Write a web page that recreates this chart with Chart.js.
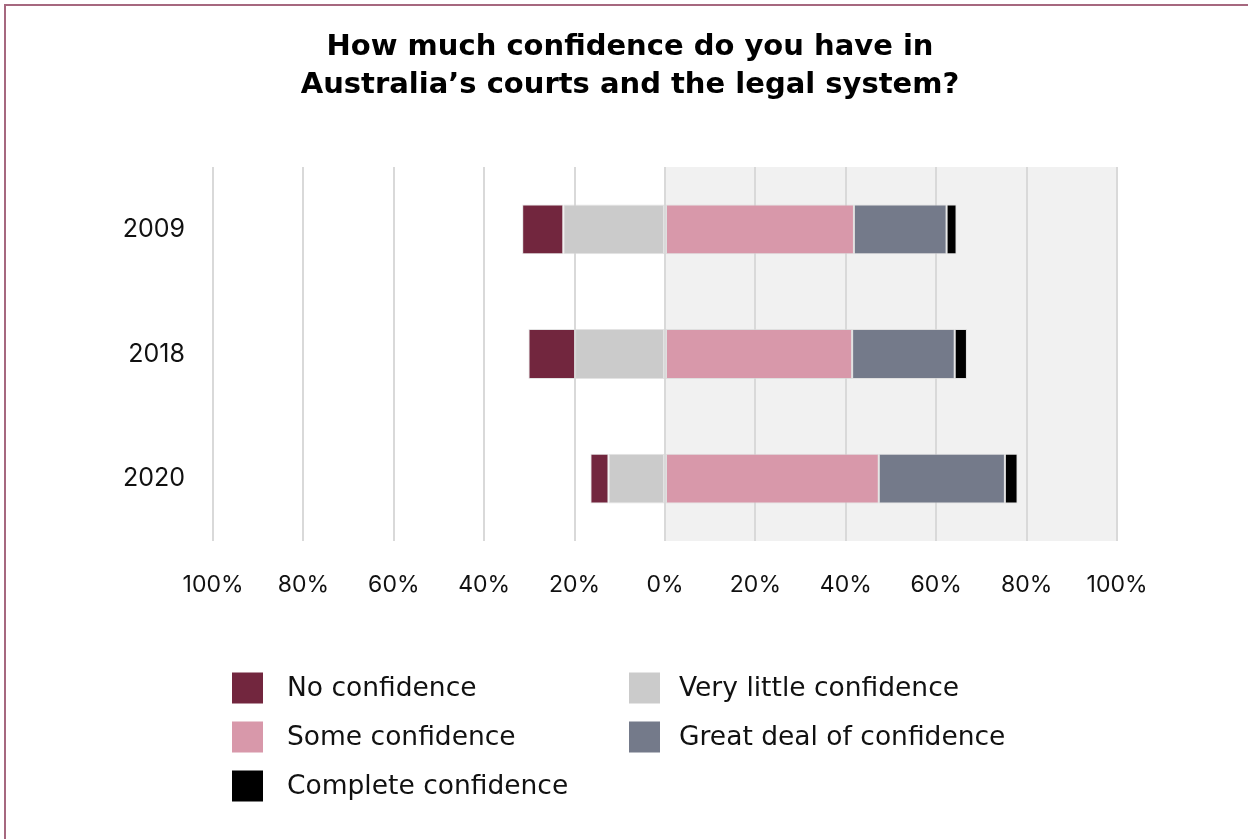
<!DOCTYPE html>
<html>
<head>
<meta charset="utf-8">
<script src="https://cdn.jsdelivr.net/npm/chart.js@4/dist/chart.umd.min.js"></script>
<style>
  html, body { margin: 0; padding: 0; background: #ffffff; }
  body { width: 1248px; height: 839px; overflow: hidden; position: relative; }
  .frame { position: absolute; left: 4px; top: 4px; width: 1300px; height: 900px;
           border-left: 2px solid #a6687f; border-top: 2px solid #a6687f; box-sizing: border-box; }
  canvas { position: absolute; left: 0; top: 0; }
</style>
</head>
<body>
<div class="frame"></div>
<canvas id="chart" width="1248" height="839"></canvas>
<script>
// Survey years (rows)
const years = ['2009', '2018', '2020'];

// Share of respondents (%) per answer, one value per year
const noConfidence       = [9.1, 10.3, 4.0];
const veryLittle         = [22.5, 19.9, 12.5];
const someConfidence     = [41.8, 41.4, 47.3];
const greatDeal          = [20.5, 22.7, 27.9];
const completeConfidence = [2.2, 2.7, 2.8];

// Axis ticks (signed; labels show the magnitude)
const xTicks = [-100, -80, -60, -40, -20, 0, 20, 40, 60, 80, 100];

const titleLines = ['How much confidence do you have in', 'Australia\u2019s courts and the legal system?'];

const TICK_FONT = 'Inter, "Open Sans", sans-serif';
const TEXT_FONT = '"DejaVu Sans", "Open Sans", sans-serif';
const neg = arr => arr.map(v => -v);

const series = [
  { key: 'vl',   label: 'Very little confidence',   data: neg(veryLittle),    color: '#cbcbcb' },
  { key: 'no',   label: 'No confidence',            data: neg(noConfidence),  color: '#72263e' },
  { key: 'some', label: 'Some confidence',          data: someConfidence,     color: '#d898aa' },
  { key: 'gd',   label: 'Great deal of confidence', data: greatDeal,          color: '#747a8a' },
  { key: 'cc',   label: 'Complete confidence',      data: completeConfidence, color: '#000000' }
];

// Legend grid: two columns, three rows
const legendLayout = [
  ['no', 0, 0], ['vl', 1, 0],
  ['some', 0, 1], ['gd', 1, 1],
  ['cc', 0, 2]
];

// Light panel behind the positive half of the axis
const positiveShade = {
  id: 'positiveShade',
  beforeDraw(chart) {
    const { ctx, chartArea, scales } = chart;
    const x0 = scales.x.getPixelForValue(0);
    const x1 = scales.x.getPixelForValue(100);
    ctx.save();
    ctx.fillStyle = '#f1f1f1';
    ctx.fillRect(x0, chartArea.top, x1 - x0, chartArea.bottom - chartArea.top);
    ctx.restore();
  }
};

// Two-line heading centred above the plot
const heading = {
  id: 'heading',
  afterDraw(chart) {
    const { ctx } = chart;
    ctx.save();
    ctx.font = 'bold 29px ' + TEXT_FONT;
    ctx.fillStyle = '#000000';
    ctx.textAlign = 'center';
    ctx.textBaseline = 'alphabetic';
    ctx.fillText(titleLines[0], 630, 55);
    ctx.fillText(titleLines[1], 630, 93);
    ctx.restore();
  }
};

// Two-column legend below the axis
const gridLegend = {
  id: 'gridLegend',
  afterDraw(chart) {
    const { ctx } = chart;
    const boxX = [232, 629];
    const textX = [287, 679];
    const rowY = [688, 737, 786];
    const box = 31;
    ctx.save();
    ctx.font = '26.5px ' + TEXT_FONT;
    ctx.textBaseline = 'middle';
    ctx.textAlign = 'left';
    legendLayout.forEach(([key, c, r]) => {
      const s = series.find(d => d.key === key);
      ctx.fillStyle = s.color;
      ctx.fillRect(boxX[c], rowY[r] - box / 2, box, box);
      ctx.fillStyle = '#111111';
      ctx.fillText(s.label, textX[c], rowY[r] + 1);
    });
    ctx.restore();
  }
};

new Chart(document.getElementById('chart'), {
  type: 'bar',
  data: {
    labels: years,
    datasets: series.map(s => ({
      label: s.label,
      data: s.data,
      backgroundColor: s.color,
      borderColor: 'rgba(215,215,215,0.7)',
      borderWidth: 1,
      borderSkipped: false,
      barPercentage: 0.4,
      categoryPercentage: 1.0,
      stack: 'answers'
    }))
  },
  options: {
    indexAxis: 'y',
    responsive: false,
    animation: false,
    devicePixelRatio: 1,
    layout: { padding: { left: 0, right: 131, top: 167, bottom: 228 } },
    plugins: {
      legend: { display: false },
      tooltip: { enabled: false },
      title: { display: false }
    },
    scales: {
      x: {
        type: 'linear',
        min: -100,
        max: 100,
        stacked: true,
        afterFit(scale) { scale.height = 70; },
        afterBuildTicks(scale) { scale.ticks = xTicks.map(v => ({ value: v })); },
        ticks: {
          padding: 30,
          color: '#111111',
          font: { family: TICK_FONT, size: 23 },
          callback: v => Math.abs(v) + '%'
        },
        grid: { color: '#d9d9d9', lineWidth: 2, drawTicks: false },
        border: { display: false }
      },
      y: {
        stacked: true,
        afterFit(scale) { scale.width = 213; },
        ticks: {
          padding: 28,
          color: '#111111',
          font: { family: TICK_FONT, size: 25 }
        },
        grid: { display: false, drawTicks: false },
        border: { display: false }
      }
    }
  },
  plugins: [positiveShade, heading, gridLegend]
});
</script>
</body>
</html>
